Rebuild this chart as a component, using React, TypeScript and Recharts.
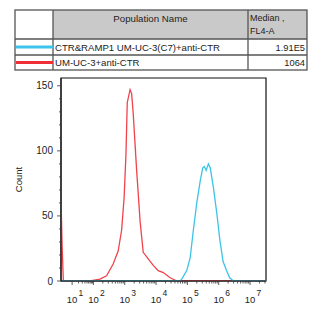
import React from "react";
import { ComposedChart, Line, XAxis, YAxis, ReferenceArea } from "recharts";

// x values are display positions in decades (10^n at n; low end compressed)
const redX = [0.965, 0.975, 1.0, 1.04, 1.89, 2.21, 2.42, 2.63, 2.79, 2.9, 2.98, 3.04, 3.08, 3.17, 3.22, 3.27, 3.38, 3.49, 3.59, 3.75, 3.91, 4.07, 4.23, 4.45, 4.66, 7.51];
const redY = [0, 53, 28, 0, 0, 1.5, 4, 13, 23, 39, 64, 98, 137, 147, 144, 129, 85, 46, 22, 17, 12, 8, 6.5, 2.5, 0, 0];
const blueX = [0.965, 4.77, 4.82, 4.98, 5.09, 5.19, 5.3, 5.41, 5.49, 5.54, 5.6, 5.67, 5.73, 5.83, 5.94, 6.04, 6.14, 6.25, 6.35, 6.47, 7.51];
const blueY = [0, 0, 1.5, 8, 18, 39, 60, 77, 87, 88, 85, 90, 87, 72, 52, 31, 15, 8, 2.5, 0, 0];

const xMajorTicks = [1.32, 2, 3, 4, 5, 6, 7];
const xMajorExponents = [1, 2, 3, 4, 5, 6, 7];
const yMajorTicks = [0, 50, 100, 150];

const populationNames = ["CTR&RAMP1 UM-UC-3(C7)+anti-CTR", "UM-UC-3+anti-CTR"];
const medians = ["1.91E5", "1064"];
const seriesColors = ["#3ec3ec", "#ee2f38"];
const lineColors = ["#3cc4e6", "#f0434c"];

const redData = redX.map((x, i) => ({ x, y: redY[i] }));
const blueData = blueX.map((x, i) => ({ x, y: blueY[i] }));

const xMinor: number[] = [];
for (let k = 2; k <= 9; k++) xMinor.push(1.32 + 0.68 * Math.log10(k));
for (let d = 2; d <= 7; d++) {
  for (let k = 2; k <= 9; k++) {
    const v = d + Math.log10(k);
    if (v < 7.5) xMinor.push(v);
  }
}
const xTicks = [...xMajorTicks, ...xMinor].sort((a, b) => a - b);
const yTicks: number[] = [];
for (let v = 0; v <= 150; v += 10) yTicks.push(v);

const FONT = "'Liberation Sans', Arial, sans-serif";

const XTick = (props: any) => {
  const { x, y, payload } = props;
  const idx = xMajorTicks.indexOf(payload.value);
  const major = idx >= 0;
  return (
    <g>
      <line x1={x} x2={x} y1={y} y2={y + (major ? 4 : 2.5)} stroke="#333" strokeWidth={0.8} />
      {major && (
        <text fontFamily={FONT} fill="#222">
          <tspan x={x} y={y + 22} fontSize={9.5} textAnchor="middle">10</tspan>
          <tspan x={x + 6.5} y={y + 15} fontSize={8.5}>{xMajorExponents[idx]}</tspan>
        </text>
      )}
    </g>
  );
};

const YTick = (props: any) => {
  const { x, y, payload } = props;
  const major = yMajorTicks.includes(payload.value);
  return (
    <g>
      <line x1={x} x2={x - (major ? 4 : 2)} y1={y} y2={y} stroke="#333" strokeWidth={0.8} />
      {major && (
        <text x={x - 8} y={y + 3.5} fontSize={10} textAnchor="end" fontFamily={FONT} fill="#222">
          {payload.value}
        </text>
      )}
    </g>
  );
};

const Table = () => {
  const left = 15, right = 307, c1 = 53, c2 = 248;
  const top = 10, h1 = 39, h2 = 55, bottom = 70;
  const stroke = "#555";
  return (
    <svg width={325} height={80} style={{ position: "absolute", left: 0, top: 0 }}>
      <rect x={c1} y={top} width={right - c1} height={h1 - top} fill="#c9c9c9" />
      <rect x={left} y={top} width={right - left} height={bottom - top} fill="none" stroke={stroke} strokeWidth={1.3} />
      <line x1={c1} x2={c1} y1={top} y2={bottom} stroke={stroke} strokeWidth={1.3} />
      <line x1={c2} x2={c2} y1={top} y2={bottom} stroke={stroke} strokeWidth={1.3} />
      <line x1={left} x2={right} y1={h1} y2={h1} stroke={stroke} strokeWidth={1.3} />
      <line x1={left} x2={right} y1={h2} y2={h2} stroke={stroke} strokeWidth={1.3} />
      <text x={(c1 + c2) / 2} y={22} fontSize={9.7} textAnchor="middle" fontFamily={FONT} fill="#222">Population Name</text>
      <text x={c2 + 2} y={21} fontSize={9} fontFamily={FONT} fill="#222">Median ,</text>
      <text x={c2 + 2} y={34} fontSize={9} fontFamily={FONT} fill="#222">FL4-A</text>
      {populationNames.map((n, i) => {
        const ry = i === 0 ? (h1 + h2) / 2 : (h2 + bottom) / 2;
        return (
          <g key={n}>
            <line x1={left + 1} x2={c1} y1={ry} y2={ry} stroke={seriesColors[i]} strokeWidth={3} />
            <text x={c1 + 2} y={ry + 3.5} fontSize={9.6} fontFamily={FONT} fill="#222">{n}</text>
            <text x={right - 2} y={ry + 3.5} fontSize={9.3} textAnchor="end" fontFamily={FONT} fill="#222">{medians[i]}</text>
          </g>
        );
      })}
    </svg>
  );
};

export default function App() {
  return (
    <div style={{ position: "absolute", left: 0, top: 0, width: 325, height: 318, background: "#fff" }}>
      <ComposedChart width={325} height={318} margin={{ top: 78, right: 59, bottom: 7, left: 21 }}>
        <ReferenceArea x1={0.965} x2={7.51} y1={0} y2={156} fill="none" stroke="#111" strokeWidth={1.2} ifOverflow="visible" />
        <XAxis
          type="number"
          dataKey="x"
          domain={[0.965, 7.51]}
          ticks={xTicks}
          interval={0}
          allowDataOverflow
          axisLine={{ stroke: "#111", strokeWidth: 1 }}
          tickLine={false}
          tickSize={0}
          tickMargin={0}
          tick={<XTick />}
          height={30}
        />
        <YAxis
          type="number"
          domain={[0, 156]}
          ticks={yTicks}
          interval={0}
          allowDataOverflow
          axisLine={{ stroke: "#111", strokeWidth: 1 }}
          tickLine={false}
          tickSize={0}
          tickMargin={0}
          tick={<YTick />}
          width={40}
          label={{ value: "Count", angle: -90, position: "insideLeft", offset: -2, style: { fontSize: 9.5, fontFamily: FONT, fill: "#222", textAnchor: "middle" } }}
        />
        <Line data={redData} dataKey="y" type="linear" stroke={lineColors[1]} strokeWidth={1.3} dot={false} isAnimationActive={false} />
        <Line data={blueData} dataKey="y" type="linear" stroke={lineColors[0]} strokeWidth={1.3} dot={false} isAnimationActive={false} />
      </ComposedChart>
      <Table />
    </div>
  );
}
